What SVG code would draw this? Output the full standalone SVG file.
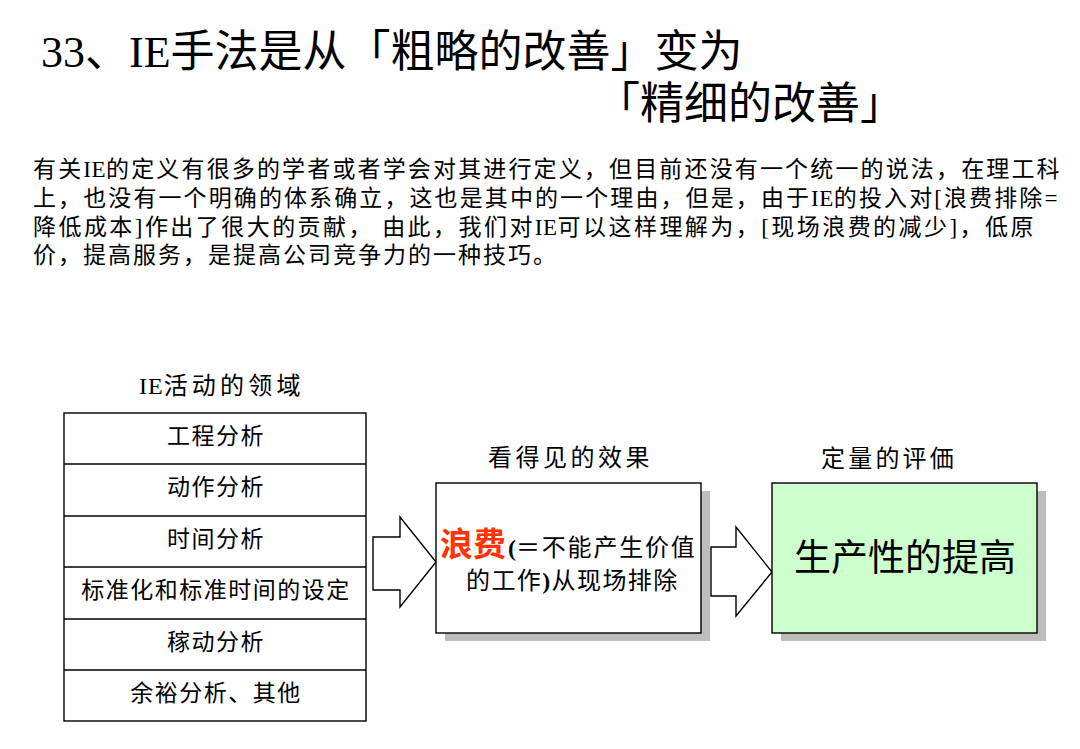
<svg xmlns="http://www.w3.org/2000/svg" width="1080" height="749" viewBox="0 0 1080 749">
<style>
text{font-family:"Liberation Serif","Noto Sans CJK SC",serif;fill:#000}
.t{font-size:44px}
.p{font-size:23px;letter-spacing:2px}
.cell{font-size:23px;text-anchor:middle;letter-spacing:1.5px}
.hd{font-size:24px}
.box{stroke:#000;stroke-width:1.4}
.sh{fill:#bdbdbd}
.arr{fill:#fff;stroke:#000;stroke-width:1.4;stroke-linejoin:miter}
</style>
<rect width="1080" height="749" fill="#fff"/>
<g id="title">
<text class="t" x="41" y="67">33、IE手法是从「粗略的改善」变为</text>
<text class="t" x="596" y="119">「精细的改善」</text>
</g>
<g id="paragraph">
<text class="p" x="33" y="177" style="letter-spacing:2.15px">有关<tspan letter-spacing="0.5">IE</tspan>的定义有很多的学者或者学会对其进行定义，但目前还没有一个统一的说法，在理工科</text>
<text class="p" x="33" y="206" style="letter-spacing:2.1px">上，也没有一个明确的体系确立，这也是其中的一个理由，但是，由于<tspan letter-spacing="0.5">IE</tspan>的投入对[浪费排除=</text>
<text class="p" x="33" y="235" style="letter-spacing:2.45px">降低成本]作出了很大的贡献， 由此，我们对<tspan letter-spacing="0.5">IE</tspan>可以这样理解为，[现场浪费的减少]，低原</text>
<text class="p" x="33" y="263">价，提高服务，是提高公司竞争力的一种技巧。</text>
</g>
<g id="ie-areas">
<text class="hd" x="139" y="394"><tspan letter-spacing="1">IE</tspan><tspan letter-spacing="4.2">活动的领域</tspan></text>
<rect class="box" x="64" y="413" width="302" height="308" fill="#fff"/>
<g stroke="#000" stroke-width="1.4">
<line x1="64" y1="464" x2="366" y2="464"/>
<line x1="64" y1="516" x2="366" y2="516"/>
<line x1="64" y1="567" x2="366" y2="567"/>
<line x1="64" y1="619" x2="366" y2="619"/>
<line x1="64" y1="670" x2="366" y2="670"/>
</g>
<text class="cell" x="216" y="444">工程分析</text>
<text class="cell" x="216" y="495">动作分析</text>
<text class="cell" x="216" y="547">时间分析</text>
<text class="cell" x="216" y="598">标准化和标准时间的设定</text>
<text class="cell" x="216" y="650">稼动分析</text>
<text class="cell" x="216" y="701">余裕分析、其他</text>
</g>
<g id="connectors">
<polygon class="arr" points="373,537 400,537 400,517 436,562 400,607 400,590 373,590"/>
<polygon class="arr" points="711,547 736,547 736,527 772,572 736,616 736,596 711,596"/>
</g>
<g id="visible-effect">
<text class="hd" x="488" y="466" style="letter-spacing:3.5px">看得见的效果</text>
<rect class="sh" x="445" y="491" width="265" height="150"/>
<rect class="box" x="436" y="483" width="265" height="150" fill="#fff"/>
<text x="440" y="556"><tspan style="font-size:33px;font-weight:bold;fill:#ff3300">浪费</tspan><tspan style="font-size:24px;font-weight:bold" dx="2">(</tspan><tspan style="font-size:24px;letter-spacing:1.8px">＝不能产生价值</tspan></text>
<text x="466" y="589" style="font-size:24px;letter-spacing:1.4px">的工作<tspan style="font-weight:bold">)</tspan>从现场排除</text>
</g>
<g id="quantitative">
<text class="hd" x="821" y="467" style="letter-spacing:3.2px">定量的评価</text>
<rect class="sh" x="781" y="491" width="265" height="150"/>
<rect class="box" x="772" y="483" width="265" height="150" fill="#ccffcc"/>
<text x="905" y="571" style="font-size:37px;text-anchor:middle">生产性的提高</text>
</g>
</svg>
